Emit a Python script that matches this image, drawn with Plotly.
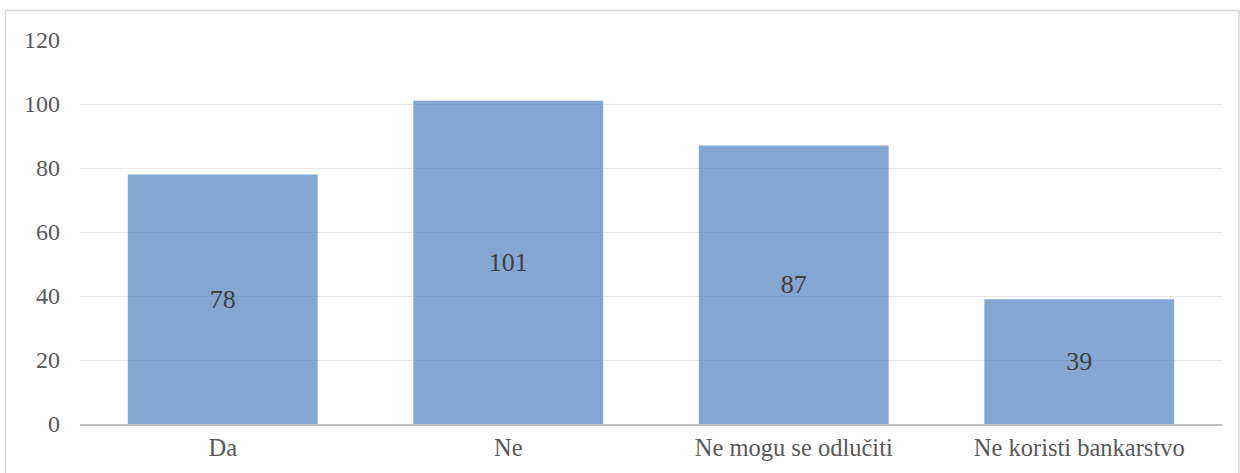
import plotly.graph_objects as go

categories = ["Da", "Ne", "Ne mogu se odlučiti", "Ne koristi bankarstvo"]
values = [78, 101, 87, 39]
y_ticks = [0, 20, 40, 60, 80, 100, 120]

W, H = 1240, 473
L, R, T, B = 80, 18, 40, 49
pw = W - L - R
ph = H - T - B
SERIF = "Liberation Serif, Times New Roman, DejaVu Serif, serif"

fig = go.Figure()
fig.add_trace(go.Bar(
    x=categories, y=values,
    marker=dict(color="rgba(79,129,189,0.7)", line=dict(width=0)),
    width=0.665,
    text=[str(v) for v in values],
    textposition="inside",
    insidetextanchor="middle",
    textangle=0,
    textfont=dict(family=SERIF, size=26, color="#404040"),
    hoverinfo="skip",
))

fig.update_layout(
    width=W, height=H,
    margin=dict(l=L, r=R, t=T, b=B, autoexpand=False),
    paper_bgcolor="white", plot_bgcolor="white",
    showlegend=False,
    font=dict(family=SERIF, size=24, color="#595959"),
    xaxis=dict(
        showgrid=False, showline=True, linecolor="#BFBFBF", linewidth=1.5,
        ticks="", tickfont=dict(family=SERIF, size=24.5, color="#595959"),
        ticklabelstandoff=1, automargin=False,
    ),
    yaxis=dict(
        range=[0, 120], tickvals=y_ticks, ticktext=[str(t) for t in y_ticks],
        showgrid=True, gridcolor="#E6E6E6", gridwidth=1.2,
        zeroline=False, showline=False, ticks="",
        tickfont=dict(family=SERIF, size=24, color="#595959"),
        ticklabelstandoff=19, automargin=False,
    ),
    shapes=[dict(
        type="rect", xref="paper", yref="paper",
        x0=(5.5 - L) / pw, x1=(1239 - L) / pw,
        y0=(H - B - 478) / ph, y1=(H - B - 10.5) / ph,
        line=dict(color="#D9D9D9", width=1.5), fillcolor="rgba(0,0,0,0)",
        layer="below",
    )],
)

fig.write_html("out.html", config={"displayModeBar": False})
with open("out.html", encoding="utf-8") as f:
    html = f.read()
html = html.replace("<body>", "<body style=\"margin:0;padding:0;overflow:hidden\">", 1)
with open("out.html", "w", encoding="utf-8") as f:
    f.write(html)
